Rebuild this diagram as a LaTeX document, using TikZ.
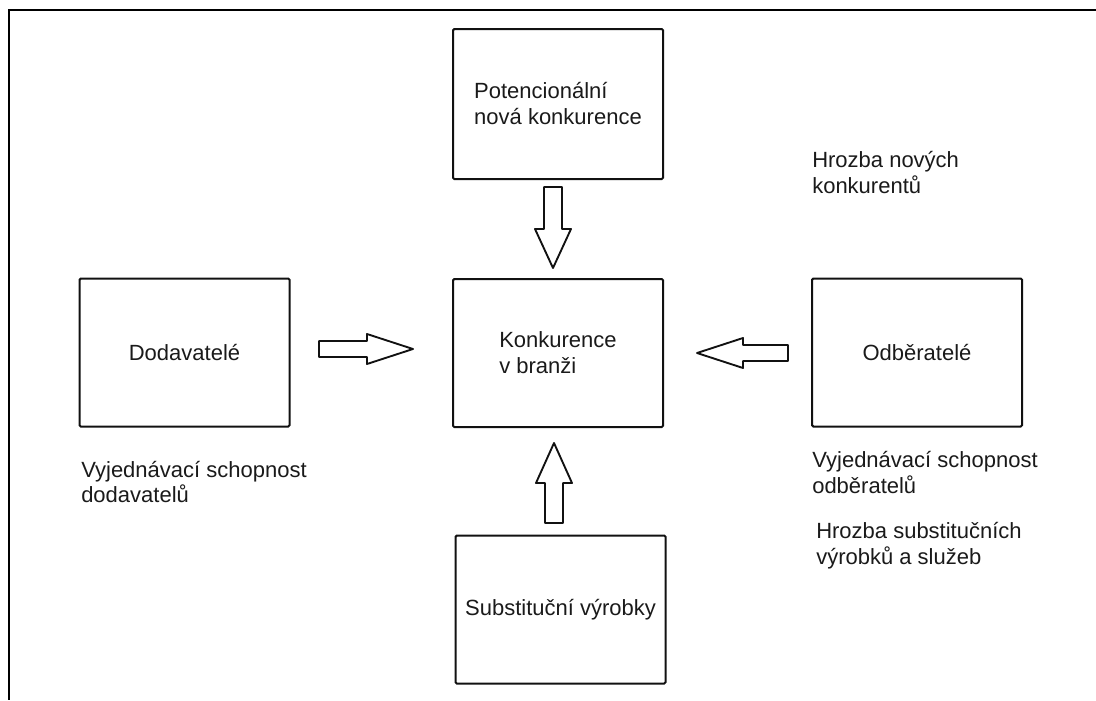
\documentclass[tikz,border=0pt]{standalone}
\usepackage{fontspec}
\setmainfont{Liberation Sans}
\usepackage{xcolor}
\usetikzlibrary{positioning}
\definecolor{porterline}{HTML}{111111}
\definecolor{portertext}{HTML}{1A1A1A}
\tikzset{
  txt/.style={font=\fontsize{16.5}{19.5}\selectfont,text=portertext,inner sep=0pt},
  box/.style={draw=porterline,line width=1.5pt,rounded corners=1pt,txt,align=left,minimum width=157.5pt,minimum height=111pt},
  lbl/.style={txt,align=left,anchor=west},
  blockarrow/.style={draw=porterline,line width=1.4pt,line join=round,fill=white},
  frame/.style={draw=black,line width=2.2pt},
}
\begin{document}
\begin{tikzpicture}[x=0.75pt,y=-0.75pt]
  \useasboundingbox (0,0) rectangle (1096,700);
  \draw[frame] (1096,10) -- (9,10) -- (9,700);
  % the five forces
  \node[box,minimum height=112.5pt] (potencial) at (558,104) {Potencionální\\nová konkurence};
  \node[box] (konkurence) at (558,353) {Konkurence\\v branži};
  \node[box] (dodavatele) at (184.5,352.5) {Dodavatelé};
  \node[box] (odberatele) at (917,352.5) {Odběratelé};
  \node[box] (substituty) at (560.5,609.5) {Substituční výrobky};
  % block arrows pointing at the centre
  \foreach \xa/\xb/\xc/\yc in {319/367/413/349, 788/743/697/353}{
     \draw[blockarrow] (\xa,\yc-8) -- (\xb,\yc-8) -- (\xb,\yc-15) -- (\xc,\yc)
        -- (\xb,\yc+15) -- (\xb,\yc+8) -- (\xa,\yc+8) -- cycle;}
  \foreach \ya/\yb/\yc/\xc in {187/229/268/553, 523/483/443/554}{
     \draw[blockarrow] (\xc-9,\ya) -- (\xc-9,\yb) -- (\xc-18,\yb) -- (\xc,\yc)
        -- (\xc+18,\yb) -- (\xc+9,\yb) -- (\xc+9,\ya) -- cycle;}
  % captions
  \node[lbl] (hrozbaNovych) at (812,173) {Hrozba nových\\konkurentů};
  \node[lbl] (silaDodavatelu) at (81,482) {Vyjednávací schopnost\\dodavatelů};
  \node[lbl] (silaOdberatelu) at (812,473) {Vyjednávací schopnost\\odběratelů};
  \node[lbl] (hrozbaSubstitutu) at (816,546) {Hrozba substitučních\\výrobků a služeb};
\end{tikzpicture}
\end{document}
